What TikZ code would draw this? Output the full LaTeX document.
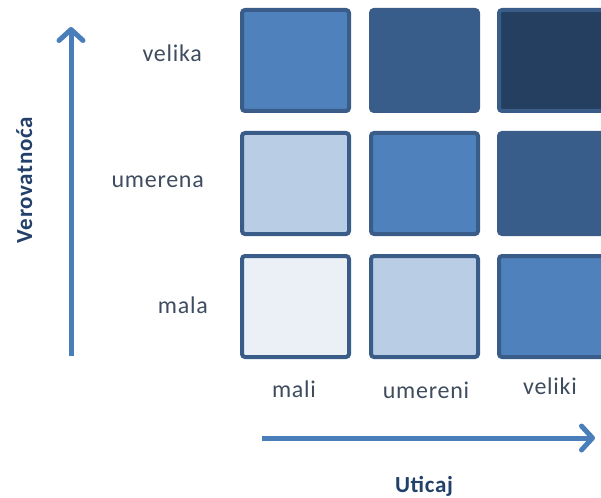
\documentclass[tikz,border=0pt]{standalone}
\usepackage{fontspec}
\setmainfont{Carlito}
\newfontfamily\labfont[LetterSpace=3]{Carlito}
\usetikzlibrary{arrows.meta}
\definecolor{acc}{HTML}{4F81BD}
\definecolor{accd}{HTML}{385D8A}
\definecolor{accdd}{HTML}{243F60}
\definecolor{accl}{HTML}{B9CDE5}
\definecolor{accll}{HTML}{EBF0F7}
\definecolor{bord}{HTML}{395C88}
\definecolor{arrc}{HTML}{4A7EBB}
\definecolor{labc}{HTML}{3E4C5E}
\definecolor{titc}{HTML}{22406A}
\tikzset{
  cell/.style={draw=bord, line width=4pt, rounded corners=3pt, minimum width=107pt, minimum height=101pt, inner sep=0pt},
  lab/.style={text=labc, font=\labfont\fontsize{24}{28}\selectfont, inner sep=0pt},
  tit/.style={text=titc, font=\bfseries\labfont\fontsize{23}{27}\selectfont, inner sep=0pt},
  axarrow/.style={draw=arrc, line width=5pt, -{Straight Barb[length=11pt,width=24pt,line join=round,line cap=round]}}
}
\begin{document}
\begin{tikzpicture}[x=1pt,y=-1pt]
\useasboundingbox (0,0) rectangle (601,497);
\begin{scope}
\clip (0,0) rectangle (601,497);
% squares
\node[cell, fill=acc]   (s31) at (295.5,60.5) {};
\node[cell, fill=accd]  (s32) at (424.5,60.5) {};
\node[cell, fill=accdd] (s33) at (552.5,60.5) {};
\node[cell, fill=accl]  (s21) at (295.5,183.5) {};
\node[cell, fill=acc]   (s22) at (424.5,183.5) {};
\node[cell, fill=accd]  (s23) at (552.5,183.5) {};
\node[cell, fill=accll] (s11) at (295.5,306.5) {};
\node[cell, fill=accl]  (s12) at (424.5,306.5) {};
\node[cell, fill=acc]   (s13) at (552.5,306.5) {};
\end{scope}
% row labels
\node[lab, anchor=base east] (lv) at (202,62) {velika};
\node[lab, anchor=base east] (lu) at (204,187) {umerena};
\node[lab, anchor=base east] (lm) at (208,313) {mala};
% column labels
\node[lab, anchor=base] (cm) at (294,397) {mali};
\node[lab, anchor=base] (cu) at (426,398) {umereni};
\node[lab, anchor=base] (cv) at (550,394) {veliki};
% axis arrows
\coordinate (vs) at (71,356);
\coordinate (ve) at (71,27);
\coordinate (hs) at (262,438);
\coordinate (he) at (595,438);
\draw[axarrow] (vs) -- (ve);
\draw[axarrow] (hs) -- (he);
% titles
\node[tit, anchor=base] (ut) at (424,492) {Uticaj};
\node[tit, anchor=base, rotate=90] (vt) at (32,180) {Verovatnoća};
\end{tikzpicture}
\end{document}
